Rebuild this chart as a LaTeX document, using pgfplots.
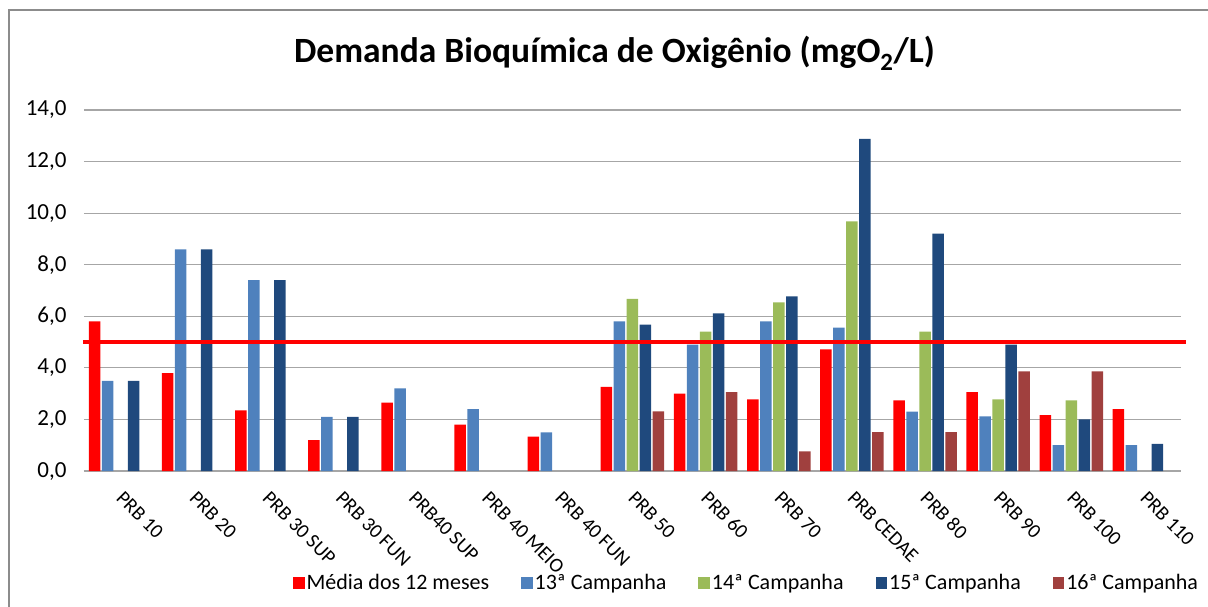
\documentclass[border=0pt]{standalone}
\usepackage{fontspec}
\setmainfont{Carlito}
\usepackage{pgfplots}
\pgfplotsset{compat=1.18}
\definecolor{cRed}{HTML}{FF0000}
\definecolor{cLB}{HTML}{4F81BD}
\definecolor{cGr}{HTML}{9BBB59}
\definecolor{cDB}{HTML}{1F497D}
\definecolor{cBr}{HTML}{A0403E}
\definecolor{cGrid}{HTML}{A6A6A6}
\definecolor{cFrame}{HTML}{8C8C8C}
\begin{document}
\begin{tikzpicture}
\begin{axis}[
  at={(84pt,-471pt)}, anchor=south west,
  scale only axis, width=1097pt, height=361pt,
  ybar=1.5pt, bar width=11.5pt,
  xmin=-0.5, xmax=14.5, ymin=0, ymax=14,
  clip=false,
  axis x line*=bottom, axis y line*=left,
  x axis line style={cGrid, line width=1.2pt},
  y axis line style={draw=none},
  ymajorgrids, grid style={cGrid, line width=1.2pt},
  major tick length=0pt,
  ytick={0,2,...,14},
  yticklabel style={font=\fontsize{23}{27}\selectfont, xshift=-14pt},
  /pgf/number format/assume math mode=true,
  /pgf/number format/.cd, fixed, fixed zerofill, precision=1, use comma, /pgfplots/.cd,
  xtick={0,...,14},
  xticklabels={PRB 10, PRB 20, PRB 30 SUP, PRB 30 FUN, PRB40 SUP, PRB 40 MEIO, PRB 40 FUN, PRB 50, PRB 60, PRB 70, PRB CEDAE, PRB 80, PRB 90, PRB 100, PRB 110},
  xticklabel style={font=\fontsize{20}{24}\selectfont, xshift=4pt, yshift=-19pt, rotate=-45, anchor=north west, inner sep=0pt},
  title={\textbf{Demanda Bioquímica de Oxigênio (mgO\textsubscript{2}/L)}},
  title style={font=\fontsize{35.5}{42}\selectfont, at={(0.5,1)}, anchor=center, xshift=-18pt, yshift=51pt},
  legend columns=5,
  legend style={draw=none, fill=none, font=\fontsize{22}{26}\selectfont, at={(0.604,-0.31)}, anchor=center,
    /tikz/every odd column/.append style={column sep=0pt},
    /tikz/every even column/.append style={column sep=30pt}},
  legend image code/.code={\fill[#1] (0pt,-6pt) rectangle (11.5pt,6pt);},
]
\addplot[fill=cRed, draw=none] coordinates {(0,5.8) (1,3.8) (2,2.35) (3,1.2) (4,2.65) (5,1.8) (6,1.33) (7,3.26) (8,3.0) (9,2.78) (10,4.72) (11,2.74) (12,3.06) (13,2.17) (14,2.4)};
\addplot[fill=cLB, draw=none] coordinates {(0,3.5) (1,8.6) (2,7.4) (3,2.1) (4,3.2) (5,2.4) (6,1.5) (7,5.8) (8,4.9) (9,5.8) (10,5.56) (11,2.3) (12,2.12) (13,1.0) (14,1.0)};
\addplot[fill=cGr, draw=none] coordinates {(7,6.68) (8,5.41) (9,6.54) (10,9.68) (11,5.41) (12,2.78) (13,2.74)};
\addplot[fill=cDB, draw=none] coordinates {(0,3.5) (1,8.6) (2,7.4) (3,2.1) (7,5.68) (8,6.11) (9,6.77) (10,12.88) (11,9.21) (12,4.9) (13,2.0) (14,1.05)};
\addplot[fill=cBr, draw=none] coordinates {(7,2.31) (8,3.06) (9,0.76) (10,1.51) (11,1.51) (12,3.86) (13,3.86)};
\legend{Média dos 12 meses, 13ª Campanha, 14ª Campanha, 15ª Campanha, 16ª Campanha}
\addplot[sharp plot, cRed, line width=4pt, forget plot, update limits=false] coordinates {(-0.514,5) (14.57,5)};
\end{axis}
\draw[cFrame, line width=1.5pt] (9pt,-700pt) -- (9pt,-10pt) -- (1300pt,-10pt);
\pgfresetboundingbox
\path (0pt,0pt) rectangle (1208pt,-606pt);
\end{tikzpicture}
\end{document}
